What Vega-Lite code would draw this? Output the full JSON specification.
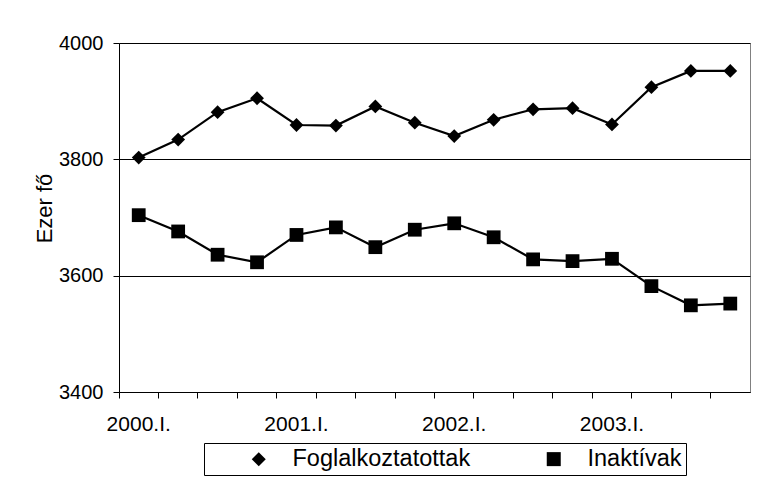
{
  "$schema": "https://vega.github.io/schema/vega-lite/v6.json",
  "autosize": "none",
  "width": 631,
  "height": 349,
  "padding": {"left": 119, "top": 43, "right": 21, "bottom": 91},
  "background": "white",
  "data": {
    "values": [
      {"q": "2000.I.", "s": "Foglalkoztatottak", "v": 3803},
      {"q": "2000.II.", "s": "Foglalkoztatottak", "v": 3834},
      {"q": "2000.III.", "s": "Foglalkoztatottak", "v": 3881},
      {"q": "2000.IV.", "s": "Foglalkoztatottak", "v": 3905},
      {"q": "2001.I.", "s": "Foglalkoztatottak", "v": 3859},
      {"q": "2001.II.", "s": "Foglalkoztatottak", "v": 3858},
      {"q": "2001.III.", "s": "Foglalkoztatottak", "v": 3891},
      {"q": "2001.IV.", "s": "Foglalkoztatottak", "v": 3863},
      {"q": "2002.I.", "s": "Foglalkoztatottak", "v": 3840},
      {"q": "2002.II.", "s": "Foglalkoztatottak", "v": 3868},
      {"q": "2002.III.", "s": "Foglalkoztatottak", "v": 3886},
      {"q": "2002.IV.", "s": "Foglalkoztatottak", "v": 3888},
      {"q": "2003.I.", "s": "Foglalkoztatottak", "v": 3860},
      {"q": "2003.II.", "s": "Foglalkoztatottak", "v": 3924},
      {"q": "2003.III.", "s": "Foglalkoztatottak", "v": 3952},
      {"q": "2003.IV.", "s": "Foglalkoztatottak", "v": 3952},
      {"q": "2000.I.", "s": "Inaktívak", "v": 3704},
      {"q": "2000.II.", "s": "Inaktívak", "v": 3676},
      {"q": "2000.III.", "s": "Inaktívak", "v": 3636},
      {"q": "2000.IV.", "s": "Inaktívak", "v": 3623},
      {"q": "2001.I.", "s": "Inaktívak", "v": 3670},
      {"q": "2001.II.", "s": "Inaktívak", "v": 3683},
      {"q": "2001.III.", "s": "Inaktívak", "v": 3649},
      {"q": "2001.IV.", "s": "Inaktívak", "v": 3679},
      {"q": "2002.I.", "s": "Inaktívak", "v": 3690},
      {"q": "2002.II.", "s": "Inaktívak", "v": 3666},
      {"q": "2002.III.", "s": "Inaktívak", "v": 3628},
      {"q": "2002.IV.", "s": "Inaktívak", "v": 3625},
      {"q": "2003.I.", "s": "Inaktívak", "v": 3629},
      {"q": "2003.II.", "s": "Inaktívak", "v": 3582},
      {"q": "2003.III.", "s": "Inaktívak", "v": 3549},
      {"q": "2003.IV.", "s": "Inaktívak", "v": 3552}
    ]
  },
  "encoding": {
    "x": {
      "field": "q",
      "type": "ordinal",
      "scale": {"type": "band", "paddingInner": 0, "paddingOuter": 0},
      "axis": {
        "title": null,
        "bandPosition": 0,
        "labelAngle": 0,
        "labelExpr": "slice(datum.value, -3) == '.I.' ? datum.value : ''",
        "labelFont": "Liberation Sans",
        "labelFontSize": 21,
        "labelColor": "black",
        "labelPadding": 15,
        "tickSize": 6,
        "tickColor": "black",
        "domainColor": "black",
        "grid": false
      }
    },
    "y": {
      "field": "v",
      "type": "quantitative",
      "scale": {"domain": [3400, 4000], "nice": false, "zero": false},
      "axis": {
        "title": "Ezer fő",
        "values": [3400, 3600, 3800, 4000],
        "format": "d",
        "titleFont": "Liberation Sans",
        "titleFontSize": 22,
        "titleFontWeight": "normal",
        "titleColor": "black",
        "titlePadding": 2,
        "titleY": 165,
        "labelFont": "Liberation Sans",
        "labelFontSize": 20,
        "labelColor": "black",
        "labelPadding": 10,
        "tickSize": 6,
        "tickColor": "black",
        "domainColor": "black",
        "grid": true,
        "gridColor": "black",
        "gridOpacity": 1
      }
    }
  },
  "layer": [
    {
      "mark": {"type": "line", "color": "black", "strokeWidth": 2.2},
      "encoding": {"detail": {"field": "s", "type": "nominal"}}
    },
    {
      "mark": {"type": "point", "filled": true, "color": "black", "opacity": 1, "size": 190},
      "encoding": {
        "shape": {
          "field": "s",
          "type": "nominal",
          "scale": {"domain": ["Foglalkoztatottak", "Inaktívak"], "range": ["diamond", "square"]},
          "legend": {
            "title": null,
            "orient": "none",
            "legendX": 85,
            "legendY": 400,
            "direction": "horizontal",
            "padding": 4,
            "strokeColor": "black",
            "fillColor": "white",
            "symbolSize": 196,
            "symbolOffset": 39,
            "labelOffset": 22,
            "columnPadding": 32,
            "labelFont": "Liberation Sans",
            "labelFontSize": 23.5,
            "labelColor": "black",
            "labelLimit": 400,
            "symbolFillColor": "black",
            "symbolStrokeWidth": 0
          }
        }
      }
    }
  ],
  "config": {
    "view": {"stroke": "#808080", "strokeWidth": 1}
  }
}
